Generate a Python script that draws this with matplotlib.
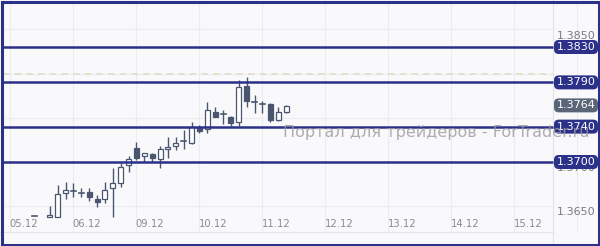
import matplotlib
matplotlib.use("Agg")
import matplotlib.pyplot as plt
from matplotlib.patches import Rectangle, FancyBboxPatch

# ---- data ----
opens  = [1.36390, None, 1.36378, 1.36378, 1.36650, 1.36675, 1.36650, 1.36661, 1.36582, 1.36582,
          1.36706, 1.36763, 1.36966, 1.37158, 1.37068, 1.37090, 1.37034, 1.37147, 1.37181, 1.37237,
          1.37215, 1.37396, 1.37373, 1.37565, 1.37543, 1.37509, 1.37452, 1.37859, 1.37678, 1.37656,
          1.37656, 1.37475, 1.37565]
highs  = [1.36395, None, 1.36506, 1.36740, 1.36774, 1.36763, 1.36706, 1.36706, 1.36627, 1.36774,
          1.36932, 1.36989, 1.37068, 1.37226, 1.37107, 1.37102, 1.37181, 1.37283, 1.37283, 1.37362,
          1.37452, 1.37418, 1.37678, 1.37622, 1.37588, 1.37520, 1.37927, 1.37961, 1.37757, 1.37690,
          1.37667, 1.37622, 1.37644]
lows   = [1.36385, None, 1.36378, 1.36378, 1.36582, 1.36604, 1.36604, 1.36559, 1.36491, 1.36537,
          1.36378, 1.36717, 1.36887, 1.37023, 1.37000, 1.37000, 1.36932, 1.37045, 1.37136, 1.37147,
          1.37204, 1.37328, 1.37328, 1.37505, 1.37430, 1.37407, 1.37407, 1.37622, 1.37554, 1.37554,
          1.37452, 1.37464, 1.37554]
closes = [1.36390, None, 1.36401, 1.36638, 1.36683, 1.36675, 1.36650, 1.36604, 1.36548, 1.36683,
          1.36763, 1.36944, 1.37034, 1.37045, 1.37102, 1.37045, 1.37147, 1.37170, 1.37215, 1.37237,
          1.37396, 1.37350, 1.37588, 1.37509, 1.37543, 1.37441, 1.37848, 1.37690, 1.37678, 1.37656,
          1.37475, 1.37565, 1.37633]

levels = [1.3830, 1.3790, 1.3740, 1.3700]
level_labels = ["1.3830", "1.3790", "1.3740", "1.3700"]
grid_prices = [1.3650, 1.3700, 1.3750, 1.3800, 1.3850]
price_ticks = [1.3650, 1.3700, 1.3850]
price_tick_labels = ["1.3650", "1.3700", "1.3850"]
last_price = 1.3764
last_price_label = "1.3764"
date_labels = ["05.12", "06.12", "09.12", "10.12", "11.12", "12.12", "13.12", "14.12", "15.12"]
dashed_level = 1.3800
watermark = "Портал для трейдеров - ForTrader.ru"

# ---- styles ----
NAVY = "#2b3088"
DARK = "#4a5670"
BG = "#f9f9fb"

W, H = 600, 246
fig = plt.figure(figsize=(W / 100, H / 100), dpi=100)
fig.patch.set_facecolor(BG)
ax = fig.add_axes([0, 0, 1, 1])
ax.set_facecolor(BG)
ax.axis("off")

step = 7.875          # px per candle
x0px = 34.0           # px of candle 0
ppp = 0.8846          # px per pip
ref_y = 47.0          # px of 1.3830
def yx(px):
    return 1.3830 - (px - ref_y) / ppp * 0.0001
def xi(px):
    return (px - x0px) / step

ax.set_xlim(xi(0), xi(W))
ax.set_ylim(yx(H), yx(0))

x_price = xi(553)
y_bottom = yx(232)

# faint grid
for k in range(-1, 9):
    ax.plot([5 + 8 * k] * 2, [y_bottom, yx(0)], color="#ececf0", lw=0.8, zorder=0.5)
for p in grid_prices:
    ax.plot([xi(3), x_price], [p, p], color="#ececf0", lw=0.8, zorder=0.5)
ax.plot([xi(3), x_price], [dashed_level, dashed_level], color="#e2dcc6", lw=1.2,
        ls=(0, (4, 3)), zorder=0.6)

# separators
ax.plot([x_price, x_price], [yx(246), yx(0)], color="#e3e3ea", lw=0.8, zorder=0.7)
ax.plot([xi(0), x_price], [y_bottom, y_bottom], color="#e3e3ea", lw=0.8, zorder=0.7)

# candles
bw = 5.0 / step
for i, (o, h, l, c) in enumerate(zip(opens, highs, lows, closes)):
    if o is None:
        continue
    ax.plot([i, i], [l, h], color=DARK, lw=1.0, zorder=2, solid_capstyle="butt")
    lo, hi = min(o, c), max(o, c)
    if hi - lo < 0.00002:
        ax.plot([i - bw / 2, i + bw / 2], [o, o], color=DARK, lw=1.2, zorder=3)
    else:
        fc = "white" if c >= o else DARK
        ax.add_patch(Rectangle((i - bw / 2, lo), bw, hi - lo, facecolor=fc,
                               edgecolor=DARK, lw=0.9, zorder=3))

# price scale tick labels (top aligned to level)
for p, t in zip(price_ticks, price_tick_labels):
    ax.text(xi(576), p - 1.2 / ppp * 0.0001, t, ha="center", va="top", fontsize=8,
            color="#7a7a80", zorder=4)

def tag(p, t, fc):
    bx = FancyBboxPatch((xi(554), p - 7 / ppp * 0.0001), xi(598) - xi(554), 14 / ppp * 0.0001,
                        boxstyle="round,pad=0,rounding_size=0.6",
                        mutation_aspect=0.0001 / ppp * step,
                        facecolor=fc, edgecolor="none", zorder=6)
    ax.add_patch(bx)
    ax.text(xi(576), p, t, ha="center", va="center", fontsize=8, color="white", zorder=7)

# level lines and labels
for p, t in zip(levels, level_labels):
    ax.plot([xi(3), x_price], [p, p], color=NAVY, lw=1.8, zorder=5, solid_capstyle="butt")
    tag(p, t, NAVY)

tag(last_price, last_price_label, "#5b6578")

# date labels
for k, t in enumerate(date_labels):
    ax.text(xi(24) + 8 * k, yx(224), t, ha="center", va="center", fontsize=7.2,
            color="#8a8a90", zorder=4)

# watermark
ax.text(xi(283), yx(132), watermark, ha="left", va="center", fontsize=11.5,
        color="#9a9a9e", alpha=0.8, zorder=8)

# outer frame
fig.patches.append(Rectangle((1.5 / W, 1.5 / H), 1 - 3 / W, 1 - 3 / H, transform=fig.transFigure,
                             fill=False, edgecolor=NAVY, lw=2.2, zorder=10))

fig.savefig("out.png", dpi=100, facecolor=BG)
